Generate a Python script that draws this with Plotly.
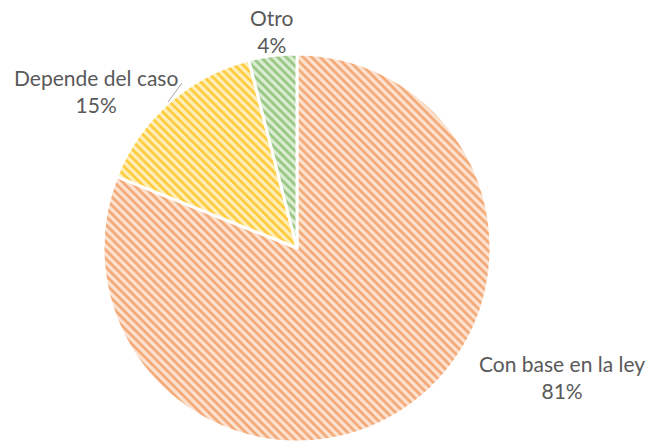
import plotly.graph_objects as go

categories = ["Con base en la ley", "Depende del caso", "Otro"]
values = [81, 15, 4]
line_colors = ["#F3A874", "#FFCA3A", "#96C681"]
fill_colors = ["#FCE3D2", "#FFF0BA", "#DBEDD3"]

fig = go.Figure(
    go.Pie(
        labels=categories,
        values=values,
        sort=False,
        direction="clockwise",
        rotation=0,
        textinfo="none",
        hoverinfo="label+percent",
        marker=dict(
            colors=fill_colors,
            line=dict(color="white", width=3),
            pattern=dict(
                shape="\\",
                fgcolor=line_colors,
                bgcolor=fill_colors,
                size=6,
                solidity=0.45,
                fillmode="replace",
            ),
        ),
        domain=dict(x=[103 / 647, 491 / 647], y=[1 / 443, 1 - 54 / 443]),
        showlegend=False,
    )
)

total = sum(values)
label_pos = {
    "Con base en la ley": (562, 377),
    "Depende del caso": (96, 91),
    "Otro": (272, 31),
}
for cat, val in zip(categories, values):
    px, py = label_pos[cat]
    fig.add_annotation(
        x=px / 647,
        y=1 - py / 443,
        xref="paper",
        yref="paper",
        text=f"{cat}<br>{round(100 * val / total)}%",
        showarrow=False,
        font=dict(family="Lato", size=21, color="#595959"),
        align="center",
        xanchor="center",
        yanchor="middle",
    )

# leader line for the yellow slice label
fig.add_shape(
    type="line",
    xref="paper",
    yref="paper",
    x0=182 / 647,
    y0=1 - 83 / 443,
    x1=168 / 647,
    y1=1 - 102 / 443,
    line=dict(color="#A6A6A6", width=1),
)

fig.update_layout(
    width=647,
    height=443,
    margin=dict(l=0, r=0, t=0, b=0),
    paper_bgcolor="white",
    plot_bgcolor="white",
)

fig.write_html("out.html")
